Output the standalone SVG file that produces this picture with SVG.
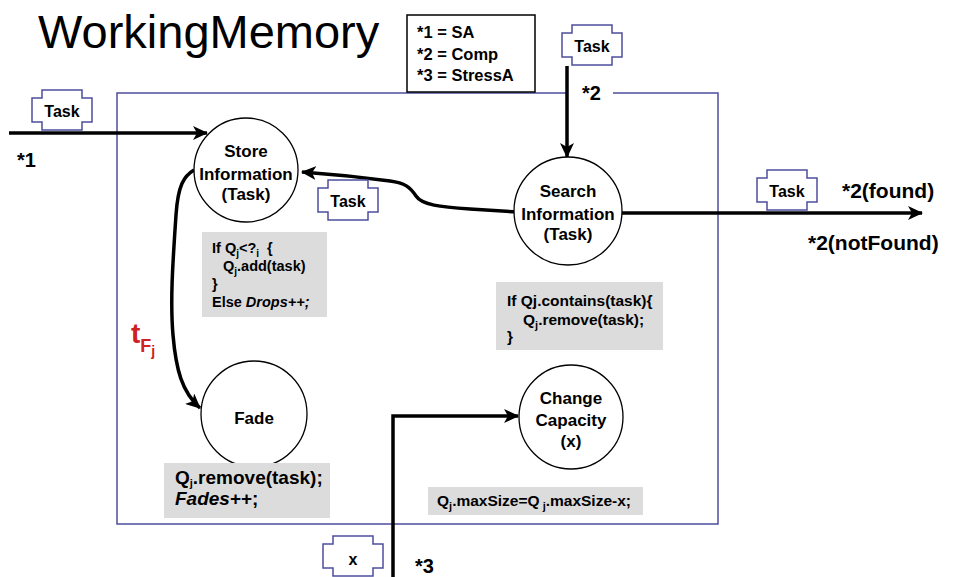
<svg xmlns="http://www.w3.org/2000/svg" width="957" height="577" viewBox="0 0 957 577">
<defs>
<style>
text{font-family:"Liberation Sans",Arial,sans-serif;fill:#000}
.b{font-weight:bold}
.node{fill:#fff;stroke:#000;stroke-width:1.3}
.tag{fill:#fff;stroke:#4d4d9e;stroke-width:1.5}
.tagt{font-weight:bold;font-size:16px;text-anchor:middle}
.ct{font-weight:bold;font-size:17px;text-anchor:middle}
.code{fill:#dcdcdc;stroke:none}
.wire{fill:none;stroke:#000;stroke-width:3.5;marker-end:url(#ah)}
.lbl{font-weight:bold;font-size:20px}
</style>
<marker id="ah" markerUnits="userSpaceOnUse" markerWidth="16" markerHeight="14" refX="14" refY="7" orient="auto">
<path d="M0,0 L15,7 L0,14 L4,7 Z" fill="#000"/>
</marker>
<path id="tagshape" d="M0,8 H10 V0 H50 V8 H60 V32 H50 V40 H10 V32 H0 Z"/>
</defs>
<rect width="957" height="577" fill="#fff"/>

<text x="38" y="48" font-size="47">WorkingMemory</text>

<path d="M566,93 H117 V524 H718 V93 H613" fill="none" stroke="#4d4d9e" stroke-width="1.5"/>

<g id="legend">
<rect x="407" y="15" width="128" height="77" fill="#fff" stroke="#000" stroke-width="1.5"/>
<text class="b" font-size="16.5" x="417" y="38">*1 = SA</text>
<text class="b" font-size="16.5" x="417" y="60">*2 = Comp</text>
<text class="b" font-size="16.5" x="417" y="81">*3 = StressA</text>
</g>

<g id="connectors">
<path class="wire" d="M9,133 L207,133"/>
<path class="wire" d="M567,66 L567,157"/>
<path class="wire" d="M622,213 L922,213"/>
<path class="wire" d="M517,212 L470,209 C440,207 422,205 416,196 C410,187 405,183 390,181 C360,177 330,174 302,172"/>
<path class="wire" d="M194,170 C184,176 178,185 176,215 C173,260 170,300 173,335 C176,370 182,392 200,408"/>
<path class="wire" d="M393,577 L393,416 L518,416"/>
</g>

<g id="labels">
<text class="lbl" x="17" y="167">*1</text>
<text class="lbl" x="582" y="100">*2</text>
<text class="lbl" x="415" y="573">*3</text>
<text class="b" font-size="21" x="842" y="198">*2(found)</text>
<text class="b" font-size="21" x="808" y="250">*2(notFound)</text>
<text class="b" style="fill:#d02020" x="131" y="343" font-size="28">t<tspan font-size="18" dy="9">F</tspan><tspan font-size="14" dy="4">j</tspan></text>
</g>

<g id="tag-left"><use href="#tagshape" class="tag" x="32" y="90"/><text class="tagt" x="62" y="117">Task</text></g>
<g id="tag-top"><use href="#tagshape" class="tag" x="562" y="25"/><text class="tagt" x="592" y="52">Task</text></g>
<g id="tag-mid"><use href="#tagshape" class="tag" x="318" y="180"/><text class="tagt" x="348" y="207">Task</text></g>
<g id="tag-right"><use href="#tagshape" class="tag" x="757" y="170"/><text class="tagt" x="787" y="197">Task</text></g>
<g id="tag-x"><use href="#tagshape" class="tag" x="323" y="536"/><text class="tagt" x="353" y="565">x</text></g>

<g id="store">
<circle class="node" cx="246" cy="170" r="52"/>
<text class="ct" x="246" y="157">Store</text>
<text class="ct" x="246" y="180">Information</text>
<text class="ct" x="246" y="200">(Task)</text>
</g>

<g id="search">
<circle class="node" cx="568" cy="211" r="54"/>
<text class="ct" x="568" y="197">Search</text>
<text class="ct" x="568" y="220">Information</text>
<text class="ct" x="568" y="240">(Task)</text>
</g>

<g id="fade">
<circle class="node" cx="254" cy="414" r="53"/>
<text class="ct" x="254" y="424">Fade</text>
</g>

<g id="change">
<circle class="node" cx="571" cy="417" r="52"/>
<text class="ct" x="571" y="404">Change</text>
<text class="ct" x="571" y="426">Capacity</text>
<text class="ct" x="571" y="447">(x)</text>
</g>

<g id="code-store">
<rect class="code" x="202" y="232" width="125" height="85"/>
<text class="b" font-size="14.5" x="212" y="253">If Q<tspan font-size="10" dy="4">j</tspan><tspan dy="-4">&lt;?</tspan><tspan font-size="10" dy="4">i</tspan><tspan dy="-4" xml:space="preserve">  {</tspan></text>
<text class="b" font-size="14.5" x="223" y="271">Q<tspan font-size="10" dy="4">j</tspan><tspan dy="-4">.add(task)</tspan></text>
<text class="b" font-size="14.5" x="212" y="289">}</text>
<text class="b" font-size="14.5" x="212" y="307">Else <tspan font-style="italic">Drops++;</tspan></text>
</g>

<g id="code-search">
<rect class="code" x="496" y="282" width="167" height="68"/>
<text class="b" font-size="15.5" x="507" y="306">If Qj.contains(task){</text>
<text class="b" font-size="15.5" x="523" y="325">Q<tspan font-size="11" dy="4">j</tspan><tspan dy="-4">.remove(task);</tspan></text>
<text class="b" font-size="15.5" x="507" y="342">}</text>
</g>

<g id="code-fade">
<rect class="code" x="164" y="463" width="166" height="55"/>
<text class="b" font-size="19" x="175" y="484">Q<tspan font-size="11" dy="3">j</tspan><tspan dy="-3">.remove(task);</tspan></text>
<text class="b" font-size="19" x="175" y="505"><tspan font-style="italic">Fades</tspan>++;</text>
</g>

<g id="code-change">
<rect class="code" x="428" y="487" width="215" height="28"/>
<text class="b" font-size="15.5" x="437" y="506">Q<tspan font-size="11" dy="4">j</tspan><tspan dy="-4">.maxSize=Q</tspan><tspan font-size="11" dy="4" xml:space="preserve"> j</tspan><tspan dy="-4">.maxSize-x;</tspan></text>
</g>
</svg>
